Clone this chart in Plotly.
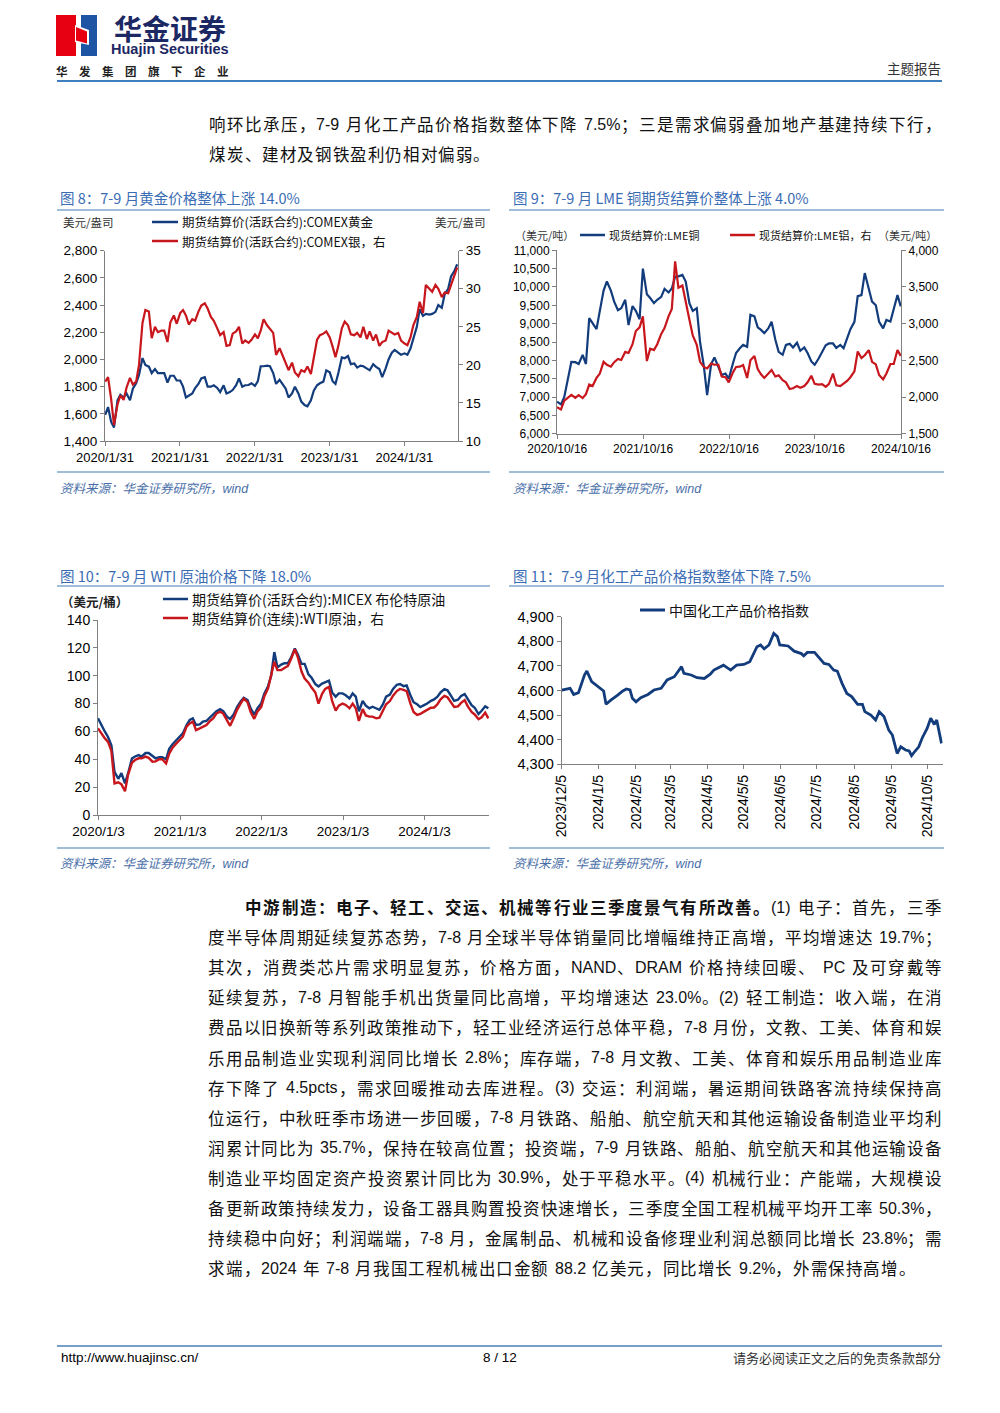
import plotly.graph_objects as go
import pandas as pd

# ---------------- data ----------------
# Fig 8: COMEX gold (left) & silver (right), semi-monthly readings
gold_start = "2020-02-01"
gold_price = [1592, 1650, 1540, 1500, 1700, 1740, 1720, 1750, 1700, 1785,
              1825, 1886, 2010, 1960, 1947, 1900, 1930, 1900, 1900, 1900,
              1830, 1880, 1880, 1845, 1845, 1800, 1720, 1735, 1750, 1790,
              1820, 1860, 1870, 1800, 1800, 1810, 1790, 1760, 1810, 1750,
              1760, 1775, 1810, 1861, 1800, 1810, 1812, 1825, 1805, 1840,
              1950, 1950, 1955, 1950, 1900, 1820, 1850, 1820, 1785, 1720,
              1750, 1800, 1750, 1690, 1665, 1655, 1700, 1770, 1810, 1825,
              1837, 1920, 1905, 1840, 1820, 1900, 2015, 2009, 2025, 1965,
              1970, 1940, 1955, 1950, 1935, 1920, 1965, 1945, 1930, 1870,
              1935, 2000, 2050, 2070, 2050, 2035, 2045, 2035, 2080, 2155,
              2240, 2370, 2320, 2335, 2330, 2335, 2350, 2400, 2380, 2480,
              2520, 2610, 2650, 2700]
silver_price = [17.8, 18.4, 15.5, 12.1, 14.8, 16.0, 15.4, 17.0, 18.3, 17.4,
                17.8, 20.0, 25.5, 27.2, 27.0, 23.5, 25.0, 24.3, 24.5, 24.5,
                23.0, 25.6, 26.5, 25.4, 26.8, 27.2, 26.5, 25.3, 26.0, 25.8,
                27.0, 27.8, 28.1, 27.4, 26.3, 25.8, 24.8, 23.9, 24.3, 22.5,
                22.6, 24.1, 24.4, 25.0, 22.8, 23.2, 22.9, 23.3, 24.0, 23.5,
                24.5, 26.0, 25.2, 24.8, 24.2, 21.3, 22.2, 21.3, 20.3, 19.3,
                20.3, 19.0, 18.5, 19.3, 19.1, 19.8, 18.8, 20.9, 23.3, 23.9,
                24.1, 24.4, 23.6, 22.4, 21.0, 22.5, 24.8, 25.7, 25.2, 24.0,
                23.9, 24.2, 23.6, 25.0, 23.4, 24.4, 23.2, 24.0, 22.5, 23.0,
                23.2, 24.5, 24.2, 24.0, 24.2, 23.2, 22.8, 22.6, 23.6, 25.2,
                26.3, 28.3, 26.8, 30.5, 30.0, 29.6, 30.5, 30.0, 28.9, 29.5,
                29.4, 30.5, 31.8, 32.8]
gold_ticks = ["2020-01-31", "2021-01-31", "2022-01-31", "2023-01-31", "2024-01-31"]
gold_ticktext = ["2020/1/31", "2021/1/31", "2022/1/31", "2023/1/31", "2024/1/31"]

# Fig 9: LME copper (left) & aluminium (right)
lme_start = "2020-10-15"
copper_price = [6870, 6800, 7000, 7550, 7960, 7950, 7900, 8150, 7900, 9150,
                9030, 8850, 9350, 9900, 10150, 9900, 9600, 9370, 9420, 9650,
                8960, 9480, 9350, 9120, 10500, 9800, 9700, 9560, 9650, 9730,
                9950, 9850, 9960, 10280, 10290, 10330, 10150, 9550, 9350, 9420,
                8500, 7850, 7050, 7900, 8080, 7800, 7600, 7640, 7500, 7900,
                8200, 8330, 8420, 8370, 9240, 9200, 8900, 8830, 8740, 8870,
                9050, 8560, 8230, 8150, 8420, 8450, 8350, 8480, 8260, 8350,
                8200, 7970, 7880, 8050, 8240, 8410, 8460, 8460, 8340, 8420,
                8330, 8600, 8850, 9050, 9750, 9780, 10380, 9950, 9600, 9500,
                9050, 8870, 9100, 9060, 9400, 9780, 9470]
alu_price = [1860, 1830, 1950, 2000, 2030, 1990, 2025, 1985, 2040, 2170,
             2150, 2260, 2320, 2480, 2440, 2414, 2475, 2520, 2505, 2615,
             2600, 2720, 2900, 2950, 3100, 2490, 2660, 2640, 2720, 2860,
             2940, 3100, 3200, 3850, 3490, 3520, 3280, 3050, 2840, 2710,
             2480, 2410, 2390, 2455, 2440, 2440, 2280, 2270, 2200, 2330,
             2410, 2414, 2436, 2260, 2500, 2560, 2380, 2310, 2260, 2320,
             2368, 2280, 2295, 2230, 2200, 2110, 2120, 2150, 2125, 2150,
             2200, 2290, 2180, 2170, 2175, 2140, 2180, 2320, 2160, 2150,
             2186, 2220, 2270, 2350, 2620, 2530, 2570, 2640, 2480, 2445,
             2300, 2240, 2320, 2450, 2450, 2640, 2560]
lme_ticks = ["2020-10-16", "2021-10-16", "2022-10-16", "2023-10-16", "2024-10-16"]
lme_ticktext = ["2020/10/16", "2021/10/16", "2022/10/16", "2023/10/16", "2024/10/16"]

# Fig 10: Brent & WTI
oil_start = "2020-01-01"
brent_price = [69.4, 64.6, 59.8, 56.0, 50.0, 31.0, 26.0, 30.0, 22.7, 30.0,
               40.5, 42.0, 43.0, 42.0, 44.5, 44.5, 42.5, 40.7, 41.5, 41.5,
               40.0, 47.5, 51.0, 53.5, 56.0, 58.6, 64.6, 68.2, 69.4, 64.6,
               65.0, 67.0, 67.5, 69.5, 72.0, 74.5, 76.0, 74.5, 70.5, 69.0,
               72.5, 77.5, 81.5, 84.2, 82.5, 76.5, 72.0, 76.6, 80.0, 87.0,
               92.5, 100.0, 117.0, 106.0, 108.0, 109.0, 109.0, 113.0, 119.5, 115.0,
               108.5, 108.5, 101.0, 98.5, 94.0, 92.3, 94.3, 95.5, 96.5, 88.0,
               85.0, 87.3, 87.3, 86.0, 83.7, 87.3, 85.0, 74.5, 82.0, 78.5,
               76.6, 77.7, 76.6, 75.5, 79.5, 85.0, 86.5, 90.5, 93.5, 94.0,
               92.5, 93.0, 86.0, 81.0, 79.5, 77.5, 78.9, 80.0, 82.0, 83.0,
               85.0, 88.0, 90.3, 89.5, 85.5, 82.0, 82.8, 85.5, 86.8, 83.0,
               78.8, 77.0, 72.5, 74.8, 78.0, 76.6]
wti_price = [62.2, 58.6, 55.0, 52.5, 46.0, 22.7, 23.5, 22.0, 17.0, 29.0,
             37.5, 39.5, 40.7, 40.7, 41.9, 41.0, 38.3, 38.5, 40.0, 40.0,
             37.0, 44.0, 48.5, 51.0, 53.5, 56.2, 63.4, 65.8, 67.0, 61.0,
             62.2, 63.4, 64.6, 67.2, 69.5, 73.0, 74.2, 72.8, 68.0, 64.0,
             70.0, 75.5, 80.0, 83.5, 81.0, 74.0, 69.0, 74.2, 77.5, 85.0,
             91.0, 100.0, 110.0, 104.0, 104.0, 105.5, 107.0, 112.0, 119.0, 113.0,
             103.0, 98.0, 95.0, 91.5, 88.0, 80.0, 87.0, 90.5, 92.0, 82.0,
             75.0, 78.5, 80.0, 79.0, 76.6, 80.0, 76.6, 67.5, 76.0, 71.5,
             70.6, 70.6, 69.4, 69.8, 75.0, 79.5, 81.8, 85.7, 89.0, 90.5,
             89.9, 89.0, 80.0, 74.0, 71.8, 72.5, 74.2, 75.5, 77.0, 77.2,
             79.5, 83.0, 85.5, 84.5, 80.7, 77.5, 78.0, 80.5, 82.5, 78.0,
             74.0, 72.2, 68.8, 70.2, 73.5, 69.4]
oil_ticks = ["2020-01-03", "2021-01-03", "2022-01-03", "2023-01-03", "2024-01-03"]
oil_ticktext = ["2020/1/3", "2021/1/3", "2022/1/3", "2023/1/3", "2024/1/3"]

# Fig 11: China chemical product price index
chem_dates = ["2023-12-05", "2023-12-12", "2023-12-15", "2023-12-19", "2023-12-24",
              "2023-12-26", "2023-12-30", "2024-01-06", "2024-01-09", "2024-01-11",
              "2024-01-15", "2024-01-21", "2024-01-25", "2024-01-28", "2024-01-31",
              "2024-02-02", "2024-02-05", "2024-02-09", "2024-02-15", "2024-02-20",
              "2024-02-26", "2024-03-02", "2024-03-08", "2024-03-14", "2024-03-16",
              "2024-03-22", "2024-03-27", "2024-04-02", "2024-04-07", "2024-04-10",
              "2024-04-16", "2024-04-18", "2024-04-24", "2024-04-29", "2024-05-05",
              "2024-05-10", "2024-05-16", "2024-05-19", "2024-05-22", "2024-05-26",
              "2024-05-30", "2024-06-02", "2024-06-04", "2024-06-11", "2024-06-16",
              "2024-06-22", "2024-06-24", "2024-06-27", "2024-07-03", "2024-07-07",
              "2024-07-11", "2024-07-15", "2024-07-19", "2024-07-22", "2024-07-26",
              "2024-07-30", "2024-08-03", "2024-08-08", "2024-08-12", "2024-08-14",
              "2024-08-19", "2024-08-23", "2024-08-26", "2024-08-30", "2024-09-03",
              "2024-09-06", "2024-09-10", "2024-09-13", "2024-09-17", "2024-09-20",
              "2024-09-22", "2024-09-25", "2024-09-28", "2024-10-01", "2024-10-05",
              "2024-10-08", "2024-10-11", "2024-10-13", "2024-10-15", "2024-10-17"]
chem_index = [4602, 4609, 4584, 4591, 4663,
              4679, 4636, 4609, 4598, 4544,
              4561, 4582, 4598, 4606, 4602,
              4568, 4554, 4571, 4584, 4602,
              4609, 4643, 4656, 4697, 4670,
              4663, 4652, 4649, 4666, 4683,
              4697, 4703, 4683, 4703, 4706,
              4717, 4778, 4785, 4769, 4785,
              4832, 4819, 4785, 4781, 4760,
              4750, 4741, 4755, 4755, 4733,
              4710, 4706, 4683, 4679, 4629,
              4588, 4575, 4544, 4544, 4514,
              4500, 4480, 4514, 4494, 4439,
              4419, 4344, 4371, 4358, 4354,
              4335, 4354, 4371, 4408, 4446,
              4487, 4462, 4480, 4432, 4385]
chem_ticks = ["2023-12-05", "2024-01-05", "2024-02-05", "2024-03-05", "2024-04-05", "2024-05-05",
              "2024-06-05", "2024-07-05", "2024-08-05", "2024-09-05", "2024-10-05"]
chem_ticktext = ["2023/12/5", "2024/1/5", "2024/2/5", "2024/3/5", "2024/4/5", "2024/5/5",
                 "2024/6/5", "2024/7/5", "2024/8/5", "2024/9/5", "2024/10/5"]

# ---------------- text ----------------
top_lines = ["响环比承压，7-9 月化工产品价格指数整体下降 7.5%；三是需求偏弱叠加地产基建持续下行，",
             "煤炭、建材及钢铁盈利仍相对偏弱。"]
bold_lead = "中游制造：电子、轻工、交运、机械等行业三季度景气有所改善。"
body_lines = [
    bold_lead + "(1) 电子：首先，三季",
    "度半导体周期延续复苏态势，7-8 月全球半导体销量同比增幅维持正高增，平均增速达 19.7%；",
    "其次，消费类芯片需求明显复苏，价格方面，NAND、DRAM 价格持续回暖、 PC 及可穿戴等",
    "延续复苏，7-8 月智能手机出货量同比高增，平均增速达 23.0%。(2) 轻工制造：收入端，在消",
    "费品以旧换新等系列政策推动下，轻工业经济运行总体平稳，7-8 月份，文教、工美、体育和娱",
    "乐用品制造业实现利润同比增长 2.8%；库存端，7-8 月文教、工美、体育和娱乐用品制造业库",
    "存下降了 4.5pcts，需求回暖推动去库进程。(3) 交运：利润端，暑运期间铁路客流持续保持高",
    "位运行，中秋旺季市场进一步回暖，7-8 月铁路、船舶、航空航天和其他运输设备制造业平均利",
    "润累计同比为 35.7%，保持在较高位置；投资端，7-9 月铁路、船舶、航空航天和其他运输设备",
    "制造业平均固定资产投资累计同比为 30.9%，处于平稳水平。(4) 机械行业：产能端，大规模设",
    "备更新政策持续发力，设备工器具购置投资快速增长，三季度全国工程机械平均开工率 50.3%，",
    "持续稳中向好；利润端端，7-8 月，金属制品、机械和设备修理业利润总额同比增长 23.8%；需",
    "求端，2024 年 7-8 月我国工程机械出口金额 88.2 亿美元，同比增长 9.2%，外需保持高增。",
]

# ---------------- styling ----------------
W, H = 1000, 1413
BLUE = "#123c7c"
RED = "#c8161d"
AX = "#7f7f7f"
TITLE_C = "#3a6cb4"
RULE_C = "#7fa8cc"
SRC_C = "#4a6fa8"
CJK = "Noto Sans CJK SC"
LAT = "Liberation Sans, Arial, sans-serif"


def X(x):
    return x / W


def Y(y):
    return 1 - y / H


annotations = []
shapes = []


def ann(x, y, text, size=12, color="#000", xanchor="left", family=CJK,
        weight="normal", style="normal", yanchor="middle", angle=0):
    annotations.append(dict(x=X(x), y=Y(y), xref="paper", yref="paper", text=text,
                            showarrow=False, xanchor=xanchor, yanchor=yanchor,
                            textangle=angle, borderpad=0,
                            font=dict(size=size, color=color, family=family,
                                      weight=weight, style=style)))


def hline(x0, x1, y, color, width=1):
    shapes.append(dict(type="line", xref="paper", yref="paper", x0=X(x0), x1=X(x1),
                       y0=Y(y), y1=Y(y), line=dict(color=color, width=width)))


def poly(points, color):
    p = "M " + " L ".join(f"{X(a):.5f},{Y(b):.5f}" for a, b in points) + " Z"
    shapes.append(dict(type="path", xref="paper", yref="paper", path=p,
                       fillcolor=color, line=dict(width=0)))


# ---------- justified body text ----------
EM = 17.6
CJK_SIZE = 16.5
LAT_SIZE = 16
SPACE_W = 6.0
# Liberation Sans advance widths (em) for the Latin characters used
AEM = {'.': 0.278, ',': 0.278, '%': 0.889, '-': 0.333, '(': 0.333, ')': 0.333, '/': 0.278,
       'N': 0.722, 'A': 0.667, 'D': 0.722, 'R': 0.722, 'M': 0.833, 'P': 0.667, 'C': 0.722,
       'p': 0.556, 'c': 0.5, 't': 0.278, 's': 0.5}


def lat_w(s):
    return sum(AEM.get(c, 0.556) for c in s) * LAT_SIZE


def is_wide(ch):
    return ord(ch) > 0x2E80


def line_items(s, bold_n):
    items = []
    buf = ""
    for i, ch in enumerate(s):
        if is_wide(ch):
            if buf:
                items.append((buf, lat_w(buf), False, False))
                buf = ""
            items.append((ch, EM, True, i < bold_n))
        elif ch == " ":
            if buf:
                items.append((buf, lat_w(buf), False, False))
                buf = ""
            items.append((None, SPACE_W, False, False))
        else:
            buf += ch
    if buf:
        items.append((buf, lat_w(buf), False, False))
    return items


def place_line(s, x0, x1, y, justify=True, bold_n=0):
    items = line_items(s, bold_n)
    natural = sum(it[1] for it in items)
    extra = (x1 - x0 - natural) / (len(items) - 1) if justify and len(items) > 1 else 0.0
    x = x0
    for text, w, wide, bold in items:
        if text is not None:
            if wide:
                ann(x + w / 2, y, text, size=CJK_SIZE, color="#111", xanchor="center",
                    family=CJK, weight="bold" if bold else "normal")
            else:
                ann(x + w / 2, y, text, size=LAT_SIZE, color="#111", xanchor="center",
                    family=LAT)
        x += w + extra


place_line(top_lines[0], 209, 942, 124, True)
place_line(top_lines[1], 209, 942, 154, False)
for k, s in enumerate(body_lines):
    yy = 907 + 30.1 * k
    x0 = 245 if k == 0 else 208
    place_line(s, x0, 942, yy, justify=(k < len(body_lines) - 1),
               bold_n=len(bold_lead) if k == 0 else 0)

# ---------- header ----------
poly([(56, 15), (76, 15), (76, 56), (56, 56)], "#e60012")
poly([(81, 15), (97, 15), (97, 56), (81, 56)], "#1d55a4")
poly([(75, 25), (89, 30), (89, 45), (75, 42)], "#ffffff")
poly([(76, 27), (87, 31.5), (87, 43.5), (76, 40.5)], "#e60012")
ann(169.5, 28, "华金证券", size=28, color="#1c2863", xanchor="center", weight="bold")
ann(169.5, 49.5, "Huajin Securities", size=14.5, color="#1c2863", xanchor="center",
    family=LAT, weight="bold")
for i, ch in enumerate("华发集团旗下企业"):
    ann(61.5 + i * 23.0, 71.5, ch, size=11.5, color="#222", xanchor="center", weight="bold")
ann(942, 68, "主题报告", size=13.5, color="#333", xanchor="right")
hline(57, 942, 81, "#3f7fbf", 2)

# ---------- footer ----------
hline(57, 942, 1346, "#4a7fb5", 1.5)
ann(60, 1357, "http://www.huajinsc.cn/", size=13.5, family=LAT, color="#000")
ann(500, 1357, "8 / 12", size=13.5, family=LAT, color="#000", xanchor="center")
ann(942, 1357, "请务必阅读正文之后的免责条款部分", size=13, color="#333", xanchor="right")

# ---------- chart frames ----------
frames = [
    (59, 57, 490, 198, 210, 472, 487, "图 8：7-9 月黄金价格整体上涨 14.0%"),
    (512, 509, 944, 198, 210, 472, 487, "图 9：7-9 月 LME 铜期货结算价整体上涨 4.0%"),
    (59, 57, 490, 575, 586, 848, 862, "图 10：7-9 月 WTI 原油价格下降 18.0%"),
    (512, 509, 944, 575, 586, 848, 862, "图 11：7-9 月化工产品价格指数整体下降 7.5%"),
]
for tx, lx0, lx1, ty, ly, sy, sty, title in frames:
    ann(tx, ty, title, size=14.5, color=TITLE_C)
    hline(lx0, lx1, ly, RULE_C, 1.5)
    hline(lx0, lx1, sy, RULE_C, 1.5)
    ann(tx, sty, "资料来源：华金证券研究所，<span style='font-family:Liberation Sans'>wind</span>",
        size=12.5, color=SRC_C, style="italic")


def legend_item(x0, x1, y, color, label, size, width=2.5):
    hline(x0, x1, y, color, width)
    ann(x1 + 3, y, label, size=size, color="#111")


ann(62, 222, "美元/盎司", size=11.5, color="#333")
ann(487, 222, "美元/盎司", size=11.5, color="#333", xanchor="right")
legend_item(152, 178, 222, BLUE, "期货结算价(活跃合约):COMEX黄金", 12.5)
legend_item(152, 178, 241, RED, "期货结算价(活跃合约):COMEX银，右", 12.5)

ann(514, 235, "（美元/吨）", size=11, color="#333")
ann(938, 235, "（美元/吨）", size=11, color="#333", xanchor="right")
legend_item(580, 605, 235, BLUE, "现货结算价:LME铜", 11)
legend_item(730, 755, 235, RED, "现货结算价:LME铝，右", 11)

ann(60, 601, "（美元/桶）", size=12.5, color="#222", weight="bold")
legend_item(163, 188, 599, BLUE, "期货结算价(活跃合约):MICEX 布伦特原油", 14)
legend_item(163, 188, 618, RED, "期货结算价(连续):WTI原油，右", 14)

legend_item(640, 665, 610, BLUE, "中国化工产品价格指数", 14, 3)

# ---------- traces ----------
gold_dates = pd.date_range(gold_start, periods=len(gold_price), freq="SMS")
lme_dates = pd.date_range(lme_start, periods=len(copper_price), freq="SMS")
oil_dates = pd.date_range(oil_start, periods=len(brent_price), freq="SMS")

fig = go.Figure()
fig.add_trace(go.Scatter(x=gold_dates, y=gold_price, mode="lines", xaxis="x", yaxis="y",
                         line=dict(color=BLUE, width=2.2)))
fig.add_trace(go.Scatter(x=gold_dates, y=silver_price, mode="lines", xaxis="x", yaxis="y2",
                         line=dict(color=RED, width=2.2)))
fig.add_trace(go.Scatter(x=lme_dates, y=copper_price, mode="lines", xaxis="x2", yaxis="y3",
                         line=dict(color=BLUE, width=2.2)))
fig.add_trace(go.Scatter(x=lme_dates, y=alu_price, mode="lines", xaxis="x2", yaxis="y4",
                         line=dict(color=RED, width=2.2)))
fig.add_trace(go.Scatter(x=oil_dates, y=brent_price, mode="lines", xaxis="x3", yaxis="y5",
                         line=dict(color=BLUE, width=2.4)))
fig.add_trace(go.Scatter(x=oil_dates, y=wti_price, mode="lines", xaxis="x3", yaxis="y5",
                         line=dict(color=RED, width=2.4)))
fig.add_trace(go.Scatter(x=chem_dates, y=chem_index, mode="lines", xaxis="x4", yaxis="y6",
                         line=dict(color=BLUE, width=2.8)))


def xax(domain, anchor, rng, tv, tt, size, angle=None):
    d = dict(type="date", domain=domain, anchor=anchor, range=rng, tickvals=tv, ticktext=tt,
             showgrid=False, zeroline=False, showline=True, linecolor=AX, linewidth=1,
             ticks="outside", tickcolor=AX, ticklen=4, automargin=False,
             tickfont=dict(family=LAT, size=size, color="#000"), fixedrange=True)
    if angle is not None:
        d["tickangle"] = angle
    return d


def yax(domain, anchor, rng, dtick, size, **kw):
    d = dict(domain=domain, anchor=anchor, range=rng, dtick=dtick, tick0=rng[0],
             showgrid=False, zeroline=False, showline=True, linecolor=AX, linewidth=1,
             ticks="outside", tickcolor=AX, ticklen=4, tickformat=",", automargin=False,
             tickfont=dict(family=LAT, size=size, color="#000"), fixedrange=True)
    d.update(kw)
    return d


fig.update_layout(
    width=W, height=H, autosize=False,
    margin=dict(l=0, r=0, t=0, b=0, pad=0, autoexpand=False),
    paper_bgcolor="white", plot_bgcolor="white", showlegend=False, hovermode=False,
    xaxis=xax([X(105), X(458)], "y", ["2020-01-31", "2024-10-19"], gold_ticks, gold_ticktext, 13),
    yaxis=yax([Y(441), Y(250.7)], "x", [1400, 2800], 200, 13.5),
    yaxis2=yax([Y(441), Y(250.7)], "x", [10, 35], 5, 13.5, overlaying="y", side="right"),
    xaxis2=xax([X(557), X(901)], "y3", ["2020-10-15", "2024-10-16"], lme_ticks, lme_ticktext, 12),
    yaxis3=yax([Y(433.7), Y(250.3)], "x2", [6000, 11000], 500, 12),
    yaxis4=yax([Y(433.7), Y(250.3)], "x2", [1500, 4000], 500, 12, overlaying="y3", side="right"),
    xaxis3=xax([X(98), X(489)], "y5", ["2020-01-01", "2024-10-18"], oil_ticks, oil_ticktext, 13.5),
    yaxis5=yax([Y(815), Y(620)], "x3", [0, 140], 20, 14),
    xaxis4=xax([X(561.7), X(942.7)], "y6", ["2023-12-05", "2024-10-18"], chem_ticks, chem_ticktext,
               14, angle=-90),
    yaxis6=yax([Y(764.3), Y(616.7)], "x4", [4300, 4900], 100, 14.5),
    annotations=annotations,
    shapes=shapes,
)

fig.write_html("out.html", config={"displayModeBar": False, "responsive": False},
               post_script="document.body.style.margin='0';")
